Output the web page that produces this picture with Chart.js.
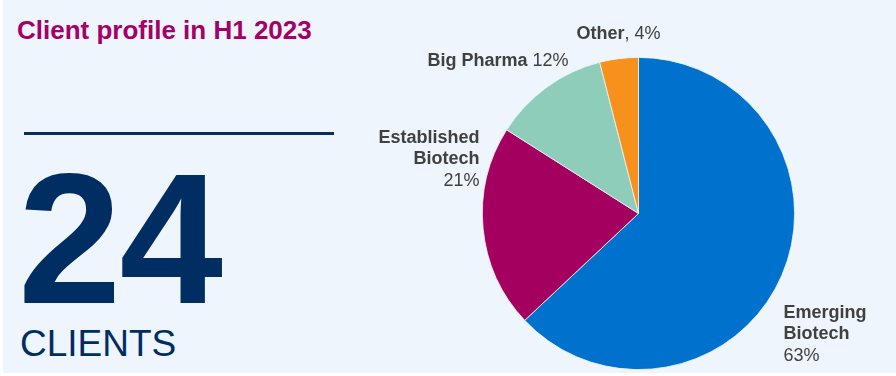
<!DOCTYPE html>
<html>
<head>
<meta charset="utf-8">
<script src="https://cdn.jsdelivr.net/npm/chart.js@4.4.0/dist/chart.umd.min.js"></script>
<style>
  html, body { margin: 0; padding: 0; background: #ffffff; }
  #wrap {
    position: relative;
    width: 896px;
    height: 376px;
    overflow: hidden;
    font-family: "Liberation Sans", Arial, sans-serif;
  }
  #panel {
    position: absolute;
    left: 3px; top: 0; width: 893px; height: 373px;
    background: #EEF5FC;
  }
  #title {
    position: absolute; left: 17px; top: 15px;
    font-size: 26px; font-weight: bold; color: #A3006A;
    line-height: 30px; white-space: nowrap;
  }
  #rule {
    position: absolute; left: 24px; top: 132px; width: 310px; height: 3px;
    background: #0B2D5E;
  }
  #big {
    position: absolute; left: 18px; top: 141px;
    font-size: 186px; font-weight: bold; color: #002D62;
    line-height: 196px; white-space: nowrap; letter-spacing: -2px;
  }
  #clients {
    position: absolute; left: 20px; top: 323px;
    font-size: 37px; color: #002D62; line-height: 42px; white-space: nowrap;
  }
  canvas { position: absolute; left: 0; top: 0; }
</style>
</head>
<body>
<div id="wrap">
  <div id="panel"></div>
  <div id="title">Client profile in H1 2023</div>
  <div id="rule"></div>
  <div id="big">24</div>
  <div id="clients">CLIENTS</div>
  <canvas id="myChart" width="896" height="376"></canvas>
</div>
<script>
// Client segments, clockwise from 12 o'clock
const segments = ["Emerging Biotech", "Established Biotech", "Big Pharma", "Other"];
const shares = [63, 21, 12, 4];
const sliceColors = ["#0071CC", "#A3005F", "#8DCDB9", "#F8901C"];

// Label text for each slice: bold lines, then the value
const labelLines = [
  [["Emerging", true], ["Biotech", true], ["63%", false]],
  [["Established", true], ["Biotech", true], ["21%", false]],
  [[["Big Pharma ", true], ["12%", false]]],
  [[["Other", true], [", 4%", false]]],
];

// Where each label sits, relative to the pie centre
const labelLayout = [
  { dx: 145, dy: 104, align: "left" },
  { dx: -159, dy: -71, align: "right" },
  { dx: -211, dy: -148, align: "left" },
  { dx: -62, dy: -175, align: "left" },
];

const sliceLabels = {
  id: "sliceLabels",
  afterDraw(chart) {
    const ctx = chart.ctx;
    const arc = chart.getDatasetMeta(0).data[0];
    const cx = arc.x;
    const cy = arc.y;
    ctx.save();
    ctx.fillStyle = "#404040";
    ctx.textBaseline = "alphabetic";
    labelLines.forEach((lines, i) => {
      const pos = labelLayout[i];
      lines.forEach((line, j) => {
        const y = cy + pos.dy + j * 21.5;
        // a line is either [text, bold] or a list of such runs
        const runs = typeof line[0] === "string" ? [line] : line;
        let widths = runs.map((r) => {
          ctx.font = (r[1] ? "bold " : "") + "18px 'Liberation Sans', Arial, sans-serif";
          return ctx.measureText(r[0]).width;
        });
        const total = widths.reduce((a, b) => a + b, 0);
        let x = pos.align === "right" ? cx + pos.dx - total : cx + pos.dx;
        runs.forEach((r, k) => {
          ctx.font = (r[1] ? "bold " : "") + "18px 'Liberation Sans', Arial, sans-serif";
          ctx.textAlign = "left";
          ctx.fillText(r[0], x, y);
          x += widths[k];
        });
      });
    });
    ctx.restore();
  },
};

const ctx = document.getElementById("myChart").getContext("2d");

const data = {
  labels: segments,
  datasets: [
    {
      data: shares,
      backgroundColor: sliceColors,
      borderColor: "#EEF5FC",
      borderWidth: 0.8,
    },
  ],
};

const config = {
  type: "pie",
  data: data,
  options: {
    responsive: false,
    animation: false,
    maintainAspectRatio: false,
    layout: {
      padding: { left: 482, right: 101, top: 57, bottom: 6 },
    },
    plugins: {
      legend: { display: false },
      tooltip: { enabled: false },
      title: { display: false },
    },
  },
  plugins: [sliceLabels],
};

const myChart = new Chart(ctx, config);
</script>
</body>
</html>
